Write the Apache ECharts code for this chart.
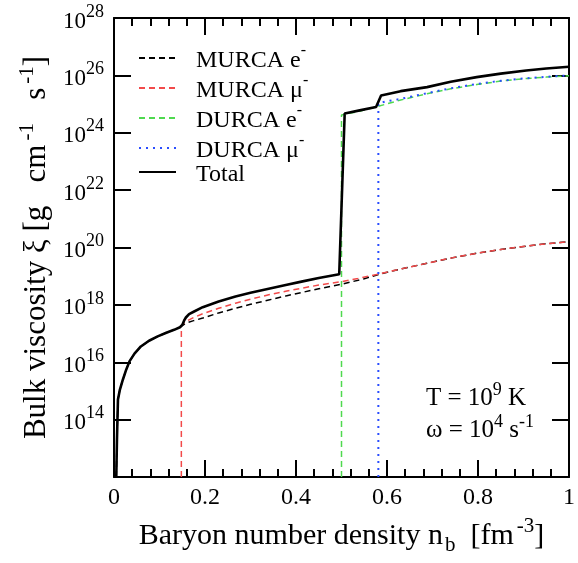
<!DOCTYPE html>
<html>
<head>
<meta charset="utf-8">
<script src="https://cdn.jsdelivr.net/npm/echarts@6/dist/echarts.min.js"></script>
<style>html,body{margin:0;padding:0;background:#fff}#c{width:578px;height:563px}</style>
</head>
<body>
<div id="c"></div>
<script>
// x: baryon number density n_b [fm^-3]; y: log10 of bulk viscosity [g cm^-1 s^-1]
var totalNb  = [0.005, 0.0065, 0.0087, 0.013, 0.0196, 0.027, 0.034, 0.045, 0.059, 0.077, 0.096, 0.115, 0.132, 0.145, 0.150, 0.154, 0.158, 0.165, 0.175, 0.195, 0.23, 0.267, 0.30, 0.34, 0.38, 0.412, 0.45, 0.495, 0.507, 0.54, 0.576, 0.587, 0.63, 0.688, 0.74, 0.797, 0.85, 0.906, 0.95, 1.0];
var totalLog = [12, 13.3, 14.7, 15.05, 15.4, 15.75, 16.03, 16.3, 16.55, 16.75, 16.9, 17.03, 17.13, 17.22, 17.3, 17.45, 17.56, 17.68, 17.76, 17.92, 18.12, 18.29, 18.42, 18.56, 18.7, 18.81, 18.94, 19.07, 24.67, 24.78, 24.9, 25.3, 25.45, 25.59, 25.78, 25.94, 26.06, 26.17, 26.24, 26.30];

var murcaENb  = [0.005, 0.0065, 0.0087, 0.013, 0.0196, 0.027, 0.034, 0.045, 0.059, 0.077, 0.096, 0.115, 0.132, 0.145, 0.150, 0.158, 0.175, 0.195, 0.23, 0.267, 0.30, 0.34, 0.38, 0.412, 0.45, 0.5, 0.55, 0.583, 0.63, 0.688, 0.74, 0.797, 0.85, 0.906, 0.95, 1.0];
var murcaELog = [12, 13.3, 14.7, 15.05, 15.4, 15.75, 16.03, 16.3, 16.55, 16.75, 16.9, 17.03, 17.13, 17.22, 17.28, 17.36, 17.45, 17.54, 17.72, 17.88, 18.02, 18.17, 18.32, 18.43, 18.56, 18.72, 18.91, 19.07, 19.25, 19.45, 19.63, 19.80, 19.93, 20.05, 20.13, 20.20];

var murcaMuNb  = [0.148, 0.148, 0.153, 0.158, 0.175, 0.195, 0.23, 0.267, 0.30, 0.34, 0.38, 0.412, 0.45, 0.5, 0.536, 0.583, 0.63, 0.688, 0.74, 0.797, 0.85, 0.906, 0.95, 1.0];
var murcaMuLog = [12, 17.28, 17.36, 17.42, 17.56, 17.69, 17.88, 18.06, 18.2, 18.35, 18.48, 18.58, 18.69, 18.81, 18.92, 19.08, 19.25, 19.45, 19.63, 19.80, 19.93, 20.05, 20.13, 20.20];

var durcaENb  = [0.5, 0.5, 0.54, 0.58, 0.63, 0.688, 0.74, 0.797, 0.85, 0.906, 0.95, 1.0];
var durcaELog = [12, 24.62, 24.75, 24.92, 25.14, 25.36, 25.53, 25.68, 25.80, 25.89, 25.94, 25.99];

var durcaMuNb  = [0.581, 0.581, 0.6, 0.63, 0.688, 0.74, 0.797, 0.85, 0.906, 0.95, 1.0];
var durcaMuLog = [12, 25.02, 25.1, 25.18, 25.38, 25.55, 25.70, 25.81, 25.90, 25.95, 26.0];

var xTicks = [0, 0.2, 0.4, 0.6, 0.8, 1];
var yExpTicks = [14, 16, 18, 20, 22, 24, 26, 28];

function pairs(xs, ls) { return xs.map(function (x, i) { return [x, ls[i]]; }); }

var FONT = "'Liberation Serif','Times New Roman',serif";
var chart = echarts.init(document.getElementById('c'), null, {renderer: 'canvas'});

var tickStyle = {color: '#000', width: 2};
var option = {
  backgroundColor: '#fff',
  animation: false,
  grid: {left: 114, top: 18, right: 5, bottom: 86, containLabel: false},
  xAxis: [{
    type: 'value', min: 0, max: 1, interval: 0.2, position: 'bottom',
    axisLine: {show: true, onZero: false, lineStyle: tickStyle},
    axisTick: {show: true, inside: true, length: 17, lineStyle: tickStyle},
    minorTick: {show: true, splitNumber: 5, length: 8, lineStyle: tickStyle},
    splitLine: {show: false},
    axisLabel: {color: '#000', fontFamily: FONT, fontSize: 24, margin: 9,
      formatter: function (v) {
        var r = Math.round(v * 10) / 10;
        return xTicks.indexOf(r) >= 0 ? String(r) : '';
      }},
    name: '{t|Baryon number density n}{sub|b}{t|  [fm}{sup|-3}{t|]}',
    nameLocation: 'middle', nameGap: 39,
    nameTextStyle: {color: '#000', fontFamily: FONT, rich: {
      t: {fontFamily: FONT, fontSize: 30, color: '#000', lineHeight: 40},
      sub: {fontFamily: FONT, fontSize: 21, color: '#000', verticalAlign: 'bottom', lineHeight: 16, padding: [0, 0, 0, 2]},
      sup: {fontFamily: FONT, fontSize: 21, color: '#000', verticalAlign: 'top', lineHeight: 16, padding: [0, 0, 0, 3]}
    }}
  }, {
    type: 'value', min: 0, max: 1, interval: 0.2, position: 'top',
    axisLine: {show: true, onZero: false, lineStyle: tickStyle},
    axisTick: {show: true, inside: true, length: 17, lineStyle: tickStyle},
    minorTick: {show: true, splitNumber: 5, length: 8, lineStyle: tickStyle},
    splitLine: {show: false},
    axisLabel: {show: false}
  }],
  yAxis: [{
    type: 'value', min: 12, max: 28, interval: 2, position: 'left',
    axisLine: {show: true, onZero: false, lineStyle: tickStyle},
    axisTick: {show: true, inside: true, length: 17, lineStyle: tickStyle},
    splitLine: {show: false},
    axisLabel: {color: '#000', fontFamily: FONT, margin: 10,
      formatter: function (v) {
        var e = Math.round(v);
        if (yExpTicks.indexOf(e) < 0) return '';
        return '{b|10}{s|' + e + '}';
      },
      rich: {
        b: {fontFamily: FONT, fontSize: 23, color: '#000', lineHeight: 30, verticalAlign: 'bottom'},
        s: {fontFamily: FONT, fontSize: 18, color: '#000', lineHeight: 16, verticalAlign: 'top'}
      }},
    name: '{t|Bulk viscosity ξ [g   cm}{sup|-1}{t|   s}{sup|-1}{t|]}',
    nameLocation: 'middle', nameGap: 57, nameRotate: 90,
    nameTextStyle: {color: '#000', fontFamily: FONT, rich: {
      t: {fontFamily: FONT, fontSize: 31, color: '#000', lineHeight: 40},
      sup: {fontFamily: FONT, fontSize: 21, color: '#000', verticalAlign: 'top', lineHeight: 16, padding: [0, 0, 0, 4]}
    }}
  }, {
    type: 'value', min: 12, max: 28, interval: 2, position: 'right',
    axisLine: {show: true, onZero: false, lineStyle: tickStyle},
    axisTick: {show: true, inside: true, length: 17, lineStyle: tickStyle},
    splitLine: {show: false},
    axisLabel: {show: false}
  }],
  legend: {
    orient: 'vertical', left: 138, top: 43, padding: 0, itemWidth: 37, itemHeight: 14, itemGap: 0,
    itemStyle: {opacity: 0},
    data: ['MURCA e', 'MURCA μ', 'DURCA e', 'DURCA μ', 'Total'],
    formatter: function (n) {
      if (n === 'Total') return '{t|Total}';
      return '{t|' + n + '}{s|-}';
    },
    textStyle: {color: '#000', fontFamily: FONT, fontSize: 24, padding: [0, 0, 0, 15],
      rich: {
        t: {fontFamily: FONT, fontSize: 24, color: '#000', lineHeight: 30, verticalAlign: 'bottom'},
        s: {fontFamily: FONT, fontSize: 16, color: '#000', lineHeight: 14, verticalAlign: 'top'}
      }}
  },
  graphic: [{
    type: 'text', left: 426, top: 381, z: 100,
    style: {text: '{a|T = 10}{s|9}{a| K}', fill: '#000', rich: {
      a: {fontFamily: FONT, fontSize: 25, fill: '#000', lineHeight: 30, verticalAlign: 'bottom'},
      s: {fontFamily: FONT, fontSize: 18, fill: '#000', lineHeight: 14, verticalAlign: 'top'}
    }}
  }, {
    type: 'text', left: 426, top: 413, z: 100,
    style: {text: '{a|ω = 10}{s|4}{a| s}{s|-1}', fill: '#000', rich: {
      a: {fontFamily: FONT, fontSize: 25, fill: '#000', lineHeight: 30, verticalAlign: 'bottom'},
      s: {fontFamily: FONT, fontSize: 18, fill: '#000', lineHeight: 14, verticalAlign: 'top'}
    }}
  }],
  series: [{
    name: 'MURCA e', type: 'line', showSymbol: false, symbol: 'none', z: 2,
    data: pairs(murcaENb, murcaELog),
    lineStyle: {color: '#000', width: 1.5, type: [6, 4]}, itemStyle: {color: '#000'}
  }, {
    name: 'MURCA μ', type: 'line', showSymbol: false, symbol: 'none', z: 3,
    data: pairs(murcaMuNb, murcaMuLog),
    lineStyle: {color: '#f24a4a', width: 1.5, type: [6, 4]}, itemStyle: {color: '#f24a4a'}
  }, {
    name: 'DURCA e', type: 'line', showSymbol: false, symbol: 'none', z: 3,
    data: pairs(durcaENb, durcaELog),
    lineStyle: {color: '#4fd94f', width: 1.5, type: [6, 4]}, itemStyle: {color: '#4fd94f'}
  }, {
    name: 'DURCA μ', type: 'line', showSymbol: false, symbol: 'none', z: 4,
    data: pairs(durcaMuNb, durcaMuLog),
    lineStyle: {color: '#2a4dff', width: 2, type: [2, 5]}, itemStyle: {color: '#2a4dff'}
  }, {
    name: 'Total', type: 'line', showSymbol: false, symbol: 'none', z: 5,
    data: pairs(totalNb, totalLog),
    lineStyle: {color: '#000', width: 2.6}, itemStyle: {color: '#000'}
  }]
};
chart.setOption(option);
</script>
</body>
</html>
